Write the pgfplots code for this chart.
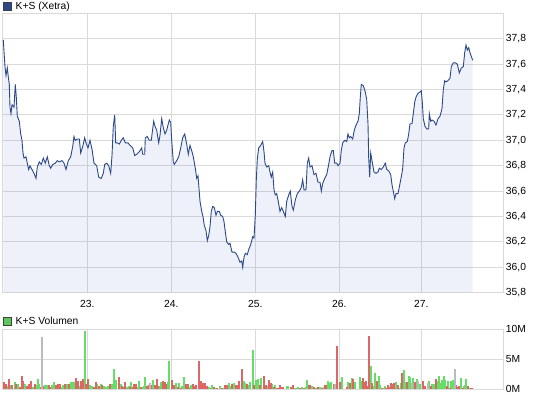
\documentclass[border=0pt]{standalone}
\usepackage{pgfplots}
\pgfplotsset{compat=1.18}
\usepackage{pgfplotstable}
\usepackage{fontspec}
\setmainfont{Liberation Sans}
\definecolor{linec}{RGB}{43,72,135}
\definecolor{fillc}{RGB}{85,115,205}
\definecolor{gridc}{RGB}{218,218,218}
\definecolor{greenc}{RGB}{102,221,102}
\definecolor{redc}{RGB}{221,102,102}
\definecolor{grayc}{RGB}{187,187,187}

\pgfplotstableread{
x y
3.3 37.79
4.0 37.70
5.0 37.58
6.0 37.51
7.3 37.57
8.3 37.50
9.3 37.44
10.0 37.26
11.0 37.21
12.0 37.28
14.0 37.26
15.3 37.44
16.3 37.34
17.3 37.19
19.3 37.15
20.7 37.05
22.0 37.00
23.0 36.90
24.0 36.86
26.0 36.87
27.3 36.82
28.7 36.77
30.0 36.80
32.0 36.77
34.0 36.74
36.0 36.70
37.3 36.79
39.3 36.83
41.3 36.81
43.3 36.86
45.3 36.82
47.3 36.87
49.3 36.80
50.7 36.78
52.7 36.81
55.3 36.82
57.3 36.84
59.3 36.83
62.0 36.84
64.0 36.82
66.0 36.77
68.3 36.84
70.7 36.87
72.7 36.95
74.0 37.03
75.3 37.00
77.3 37.01
79.3 37.01
80.7 36.90
82.7 36.95
84.7 37.02
86.0 36.98
88.0 36.94
90.0 37.00
92.0 36.93
94.0 36.82
96.7 36.80
98.7 36.71
101.3 36.70
103.3 36.74
104.7 36.81
106.7 36.82
108.7 36.80
110.7 36.74
112.0 36.88
113.3 37.11
114.7 37.20
115.7 36.98
117.3 36.98
119.3 36.97
121.3 37.00
123.3 37.02
125.3 36.98
128.0 36.98
130.0 36.96
132.7 36.94
134.7 36.88
136.7 36.89
139.3 36.91
141.7 36.94
142.7 36.89
144.7 36.89
145.3 37.02
147.3 37.03
149.3 37.00
151.3 37.00
152.7 37.09
153.7 37.15
155.0 37.11
156.7 37.08
158.7 36.98
160.0 37.04
161.7 37.17
163.3 37.10
165.0 37.05
166.7 37.08
169.3 37.16
170.7 37.14
171.7 37.00
173.3 36.83
174.3 36.81
176.7 36.84
178.7 36.87
180.7 36.94
182.7 37.02
184.7 37.05
186.7 36.97
188.3 36.89
190.0 36.96
192.0 36.91
193.3 36.87
195.3 36.78
196.7 36.70
198.0 36.72
199.0 36.62
200.0 36.52
201.7 36.44
203.0 36.40
204.3 36.33
206.0 36.29
207.3 36.21
208.7 36.25
210.0 36.32
211.3 36.44
212.7 36.48
214.3 36.47
216.0 36.41
217.3 36.44
219.3 36.44
220.7 36.41
222.7 36.40
224.0 36.36
225.3 36.28
226.7 36.20
228.7 36.18
230.0 36.19
232.0 36.12
234.0 36.12
236.0 36.11
238.0 36.08
240.0 36.04
241.7 36.05
242.7 36.00
244.0 36.08
245.3 36.11
247.3 36.10
248.7 36.14
250.7 36.18
252.7 36.24
254.0 36.23
255.3 36.41
256.3 36.69
257.3 36.85
258.7 36.94
260.7 36.96
262.7 36.99
264.0 36.91
265.0 36.82
266.7 36.79
268.7 36.80
270.0 36.75
271.3 36.71
272.7 36.75
274.0 36.61
275.3 36.57
276.7 36.58
278.0 36.53
280.0 36.44
281.7 36.47
283.3 36.44
285.3 36.40
286.7 36.52
288.7 36.57
290.3 36.60
292.0 36.48
293.3 36.45
295.3 36.53
297.3 36.58
299.3 36.60
301.3 36.63
302.7 36.69
304.0 36.61
306.0 36.61
307.3 36.82
308.7 36.86
310.0 36.79
312.0 36.80
314.0 36.73
316.0 36.74
318.0 36.67
320.0 36.67
321.3 36.60
322.7 36.66
324.7 36.70
326.7 36.73
328.7 36.81
330.0 36.87
332.0 36.92
333.3 36.92
334.7 36.82
336.7 36.82
338.0 36.80
340.0 36.82
341.3 36.92
342.7 36.98
344.7 37.00
346.7 36.99
348.0 37.05
349.3 37.02
350.7 37.03
352.7 37.01
354.0 37.07
356.0 37.12
358.0 37.15
359.3 37.21
360.3 37.34
361.3 37.44
363.3 37.43
365.3 37.38
366.7 37.32
368.0 37.13
368.7 36.86
369.7 36.71
370.7 36.90
372.0 36.84
374.0 36.75
376.0 36.74
378.0 36.75
379.3 36.78
381.3 36.77
383.3 36.79
385.3 36.82
386.7 36.77
388.7 36.76
390.7 36.73
392.0 36.65
393.3 36.60
394.7 36.54
396.0 36.58
398.0 36.58
400.0 36.66
401.7 36.73
402.7 36.78
404.0 36.94
405.3 36.98
407.3 36.99
408.7 37.05
410.0 37.13
412.0 37.13
413.3 37.21
414.7 37.30
416.0 37.34
418.0 37.37
420.0 37.38
421.3 37.39
422.3 37.30
423.3 37.17
425.0 37.11
426.7 37.09
428.7 37.09
429.3 37.21
430.7 37.15
432.0 37.16
434.0 37.15
436.0 37.12
438.0 37.17
440.0 37.19
442.0 37.25
443.3 37.40
444.7 37.47
446.0 37.46
448.0 37.47
450.0 37.49
451.3 37.58
453.3 37.61
455.3 37.61
457.3 37.60
459.3 37.53
461.3 37.57
463.3 37.58
464.7 37.69
466.0 37.75
467.3 37.71
468.7 37.73
470.0 37.69
471.3 37.66
472.7 37.63
}\price

\pgfplotstableread{
x v
7.0 0.55
11.0 0.7
15.0 1.1
18.0 0.8
25.0 0.8
30.0 0.9
33.0 0.4
36.0 0.7
38.0 1.7
39.3 0.9
45.0 0.7
47.0 0.7
52.0 0.7
54.0 1.2
62.0 0.4
63.3 0.7
66.7 0.8
70.7 1.1
73.0 1.2
74.0 1.2
80.0 0.5
85.3 9.7
90.0 0.7
92.0 0.55
97.3 0.8
101.0 0.9
104.0 0.5
106.0 0.4
108.0 0.55
112.0 0.8
114.0 3.3
116.0 1.5
120.7 0.9
127 0.4
129 0.55
131 1.2
137 0.4
139 1.4
142 0.3
144 0.55
145 2.0
153 1.5
159 0.55
161 1.2
168 1.2
169 4.7
176 1.0
179 1.0
182 0.55
184 2.0
190 0.4
191 0.7
209 0.4
210 0.2
212 0.7
216 0.2
220 0.55
223 0.2
229 1.0
230 0.55
234 1.0
243 0.7
244 1.3
245 1.0
249 0.7
250 1.2
253 6.6
256 1.5
258 1.7
261 1.9
268 0.55
272 0.8
275 0.7
287 0.55
288 0.55
295 0.2
297 0.2
298 0.4
302 0.4
306 0.4
307 1.5
312 0.55
315 0.2
320 0.4
324 0.4
328 1.3
329 1.0
331 1.2
342 2.0
348 1.2
352 1.9
355 1.2
360 2.0
361 1.3
371 3.8
374 0.55
375 2.7
379 2.2
380 0.7
383 0.2
385 0.5
396 1.2
399 0.2
401 1.0
404 3.2
405 1.2
409 2.2
410 2.0
413 1.8
417 1.7
420 0.8
429 1.3
432 0.8
434 0.8
437 1.3
439 2.2
440 1.0
442 1.5
444 2.2
445 1.5
448 1.3
451 1.3
453 1.5
461 1.8
464 0.55
465 0.7
466 1.7
469 0.2
}\volgreen

\pgfplotstableread{
x v
4.0 1.1
6.0 0.8
9.0 1.7
12.0 0.7
16.0 0.9
20.0 0.4
22.0 2.2
23.0 1.3
27.0 0.55
29.0 0.8
31.0 1.3
35.0 0.8
41.0 0.4
43.0 0.55
49.0 0.7
50.0 0.4
56.0 0.7
58.0 0.8
60.0 0.8
65.3 0.8
68.7 0.8
76.0 1.9
78.0 1.3
81.3 1.3
83.3 1.6
86.3 0.8
88.0 1.7
94.0 0.4
95.7 1.2
99.0 0.55
102.0 0.7
110.0 0.9
119.0 2.0
122.0 0.55
123.7 0.4
125 1.2
130 0.4
133 0.4
134 0.8
136 0.8
141 0.4
147 0.55
149 0.7
151 0.7
155 0.7
157 1.7
158 0.55
163 1.4
165 1.2
166 0.8
172 1.5
174 0.7
178 0.4
181 0.2
186 0.9
188 0.8
193 0.8
195 0.55
196 0.7
199 4.7
201 1.4
203 1.0
205 1.0
207 0.55
214 0.4
217 0.2
222 0.2
225 0.7
227 0.7
232 0.8
236 0.7
238 0.7
239 1.3
242 3.3
247 0.8
254 0.7
260 0.7
264 2.2
266 0.7
269 1.5
271 1.0
274 0.4
277 0.2
279 0.2
280 0.7
282 0.4
283 0.4
291 0.4
293 0.7
300 0.2
304 0.2
309 0.7
310 0.7
314 0.4
317 0.2
318 0.4
322 0.2
325 0.7
326 0.7
334 0.8
337 7.2
340 1.2
347 0.4
350 1.0
353 1.7
363 1.9
364 1.2
366 1.3
367 0.5
369 8.8
372 1.0
377 1.3
382 0.2
386 0.2
388 0.7
389 0.4
391 1.0
393 0.8
394 1.0
398 0.7
402 2.7
407 1.2
415 1.2
423 1.3
425 0.55
431 0.55
436 1.7
447 0.55
450 0.2
456 0.7
458 0.4
459 0.55
463 0.2
468 0.55
471 0.2
472 0.2
}\volred

\pgfplotstableread{
x v
42.0 8.7
150 1.0
335 0.8
412 1.0
418 1.3
428 1.0
455 3.3
}\volgray

\pgfplotsset{
  kschart/.style={
    scale only axis,
    width=501bp,
    xmin=2.3, xmax=503.3,
    axis line style={draw=gridc, line width=0.8bp},
    grid=major,
    major grid style={draw=gridc, line width=0.8bp},
    tick style={draw=none},
    major tick length=0pt,
    xtick={87.3,171.3,255.3,339.3,421.3},
    yticklabel pos=right,
    tick label style={font=\fontsize{10.3bp}{12bp}\selectfont},
    /pgf/number format/assume math mode=true,
  }
}

\begin{document}
\fontsize{10.3bp}{12bp}\selectfont
\begin{tikzpicture}
\path[use as bounding box] (0bp,0bp) rectangle (545bp,398bp);

\begin{axis}[kschart,
  at={(2.3bp,105.3bp)}, anchor=south west,
  height=279.4bp,
  ymin=35.8, ymax=38.0,
  ytick={35.8,36,36.2,36.4,36.6,36.8,37,37.2,37.4,37.6,37.8},
  xticklabels={23.,24.,25.,26.,27.},
  xticklabel style={yshift=-3.5bp},
  yticklabel style={xshift=-1bp,
    /pgf/number format/fixed,
    /pgf/number format/fixed zerofill,
    /pgf/number format/precision=1,
    /pgf/number format/use comma},
]
\addplot[draw=none, fill=fillc, fill opacity=0.1] table[x=x,y=y] {\price} \closedcycle;
\addplot[draw=linec, line width=0.9bp, mark=none] table[x=x,y=y] {\price};
\end{axis}

\begin{axis}[kschart,
  at={(2.3bp,9bp)}, anchor=south west,
  height=59.7bp,
  ymin=0, ymax=10,
  ytick={0,5,10},
  yticklabels={0M,5M,10M},
  xticklabels={},
  yticklabel style={xshift=-1bp},
]
\addplot[ycomb, draw=greenc, line width=1.7bp, mark=none] table[x=x,y=v] {\volgreen};
\addplot[ycomb, draw=redc, line width=1.7bp, mark=none] table[x=x,y=v] {\volred};
\addplot[ycomb, draw=grayc, line width=1.7bp, mark=none] table[x=x,y=v] {\volgray};
\end{axis}

\filldraw[fill=linec, draw=black!75, line width=0.6bp] (3.5bp,387.5bp) rectangle (11.5bp,395.5bp);
\node[anchor=base west, inner sep=0pt] at (15.5bp,388bp) {K+S (Xetra)};
\filldraw[fill=greenc!90!black, draw=black!75, line width=0.6bp] (3.5bp,73bp) rectangle (11.5bp,81bp);
\node[anchor=base west, inner sep=0pt] at (15.5bp,73bp) {K+S Volumen};
\end{tikzpicture}
\end{document}
